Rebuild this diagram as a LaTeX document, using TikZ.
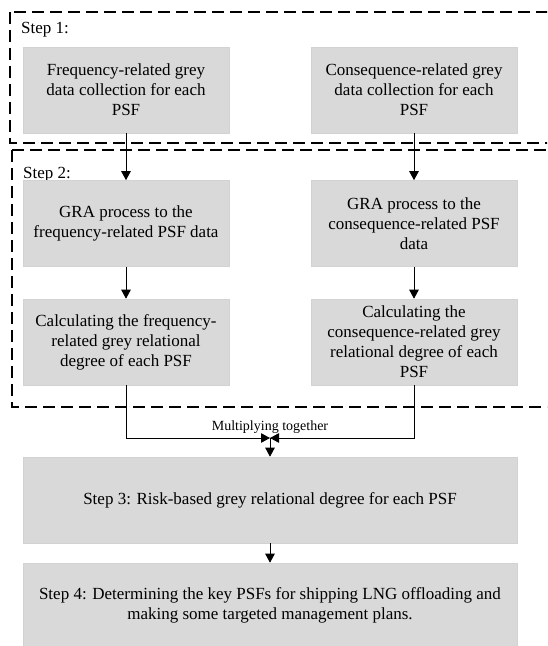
\documentclass[tikz,border=0pt]{standalone}
\usepackage{fontspec}
\setmainfont{Liberation Serif}
\usetikzlibrary{positioning,arrows.meta}

\begin{document}
\begin{tikzpicture}[
  x=1pt, y=-1pt,
  psfbox/.style={rectangle, draw=gray!35, line width=0.6pt, fill=black!15, align=center, font=\fontsize{17}{20}\selectfont, minimum width=206pt, minimum height=86pt, inner sep=2pt},
  widebox/.style={psfbox, minimum width=494pt},
  stage/.style={draw, line width=1.1pt, dash pattern=on 12pt off 6pt},
  steplabel/.style={anchor=base west, font=\fontsize{17}{20}\selectfont, inner sep=0pt},
  arrow/.style={-{Triangle[length=9pt,width=9.5pt]}, line width=0.9pt}
]
  \clip (0,0) rectangle (547,646);

  % dashed frames of steps 1 and 2
  \draw[stage] (10,12) rectangle (580,143);
  \draw[stage] (12,150) rectangle (580,407);
  \node[steplabel] (lab1) at (21,33) {Step 1:};
  \node[steplabel] (lab2) at (23,178) {Step 2:};

  % left column: frequency
  \node[psfbox] (freq1) at (126,90) {Frequency-related grey\\data collection for each\\PSF};
  \node[psfbox] (freq2) at (126,223.5) {GRA process to the\\frequency-related PSF data};
  \node[psfbox] (freq3) at (126,342) {Calculating the frequency-\\related grey relational\\degree of each PSF};

  % right column: consequence
  \node[psfbox] (cons1) at (414,90) {Consequence-related grey\\data collection for each\\PSF};
  \node[psfbox] (cons2) at (414,223.5) {GRA process to the\\consequence-related PSF\\data};
  \node[psfbox] (cons3) at (414,342) {Calculating the\\consequence-related grey\\relational degree of each\\PSF};

  % steps 3 and 4
  \node[widebox] (risk) at (270,500) {Step 3: Risk-based grey relational degree for each PSF};
  \node[widebox, minimum height=84pt] (keypsf) at (270,605) {Step 4: Determining the key PSFs for shipping LNG offloading and\\making some targeted management plans.};

  \coordinate (merge) at (270,438);

  \draw[arrow] (freq1) -- (freq2);
  \draw[arrow] (freq2) -- (freq3);
  \draw[arrow] (cons1) -- (cons2);
  \draw[arrow] (cons2) -- (cons3);
  \draw[arrow] (freq3.south) |- (merge);
  \draw[arrow] (cons3.south) |- (merge);
  \draw[arrow] (merge) -- (risk);
  \draw[arrow] (risk) -- (keypsf);
  \node[font=\fontsize{14}{16}\selectfont, above=1pt of merge] (multi) {Multiplying together};
\end{tikzpicture}
\end{document}
